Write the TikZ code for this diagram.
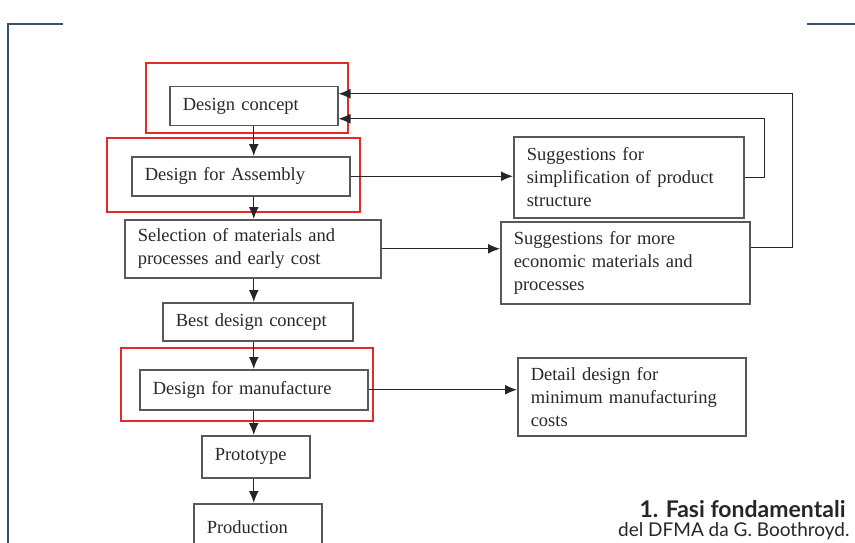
\documentclass[tikz,border=0pt]{standalone}
\usepackage{fontspec}
\setmainfont{Liberation Serif}
\newfontfamily\capfont{Lato}
\usetikzlibrary{arrows.meta}

\definecolor{boxgray}{RGB}{88,88,88}
\definecolor{textgray}{RGB}{40,40,40}
\definecolor{markred}{RGB}{226,42,42}
\definecolor{pageline}{RGB}{52,82,110}

\tikzset{
  phase/.style={draw=boxgray, line width=1.5pt, text=textgray, anchor=north west,
    inner xsep=13pt, inner ysep=2pt, align=left,
    font=\fontsize{18.5}{23}\selectfont},
  redframe/.style={draw=markred, line width=2.6pt},
  flow/.style={line width=1.3pt, draw=black!85, -{Latex[length=12pt,width=10pt]}},
  pageedge/.style={draw=pageline, line width=1.4pt}
}

\begin{document}
\begin{tikzpicture}[x=1pt,y=-1pt]
  \useasboundingbox (0,0) rectangle (855,543);

  % page corner rules
  \draw [pageedge] (8,543) -- (8,24) -- (63,24);
  \draw [pageedge] (807,24) -- (855,24);

  % marked phases
  \draw [redframe] (146,63)  rectangle (348,133);
  \draw [redframe] (107,138) rectangle (360,212);
  \draw [redframe] (121,348) rectangle (373,421);

  \node (dc)     [phase, text width=142pt, minimum height=39pt] at (169,86)  {Design concept};
  \node (dfa)    [phase, text width=192pt, minimum height=39pt] at (131,156) {Design for Assembly};
  \node (sel)    [phase, text width=230pt, minimum height=58pt] at (124,219)
    {Selection of materials and\\processes and early cost};
  \node (simp)   [phase, text width=204pt, minimum height=81pt] at (513,136)
    {Suggestions for\\simplification of product\\structure};
  \node (econ)   [phase, text width=223pt, minimum height=82pt] at (500,221)
    {Suggestions for more\\economic materials and\\processes};
  \node (best)   [phase, text width=164pt, minimum height=38pt] at (162,302) {Best design concept};
  \node (dfm)    [phase, text width=202pt, minimum height=40pt] at (139,369) {Design for manufacture};
  \node (detail) [phase, text width=202pt, minimum height=78pt] at (517,357)
    {Detail design for\\minimum manufacturing\\costs};
  \node (proto)  [phase, text width=82pt,  minimum height=42pt] at (201,435) {Prototype};
  \node (prod)   [phase, text width=102pt, minimum height=46pt] at (193,503) {Production};

  % main sequence
  \draw [flow] (dc.south)        -- (dfa.north -| dc.south);
  \draw [flow] (dfa.south -| dc) -- (sel.north -| dc);
  \draw [flow] (sel.south -| dc) -- (best.north -| dc);
  \draw [flow] (best.south -| dc) -- (dfm.north -| dc);
  \draw [flow] (dfm.south -| dc) -- (proto.north -| dc);
  \draw [flow] (proto.south -| dc) -- (prod.north -| dc);

  % side outputs
  \draw [flow] (dfa.east) -- (dfa.east -| simp.west);
  \draw [flow] (sel.east) -- (sel.east -| econ.west);
  \draw [flow] (dfm.east) -- (dfm.east -| detail.west);

  % feedback to the concept
  \draw [flow] (simp.east) -- ++(20,0) |- ([yshift=-12.5pt]dc.east);
  \draw [flow] ([yshift=15pt]econ.east) -- ++(42,0) |- ([yshift=12.5pt]dc.east);

  \node (cap1) [anchor=base east, font=\capfont\bfseries\fontsize{23}{23}\selectfont, text=black!85]
    at (849,517) {1. Fasi fondamentali};
  \node (cap2) [anchor=base east, font=\capfont\fontsize{19}{19}\selectfont, text=black!85]
    at (853,536) {del DFMA da G. Boothroyd.};
\end{tikzpicture}
\end{document}
